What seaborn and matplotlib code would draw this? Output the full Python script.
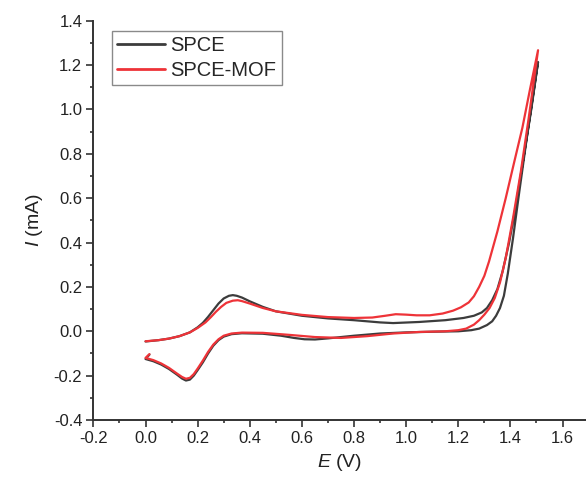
import numpy as np
import pandas as pd
import matplotlib
matplotlib.use("Agg")
import matplotlib.pyplot as plt
import seaborn as sns
from matplotlib.ticker import MultipleLocator, FormatStrFormatter

# ---- data ----
spce_E = [0.015, 0.0, 0.03, 0.06, 0.09, 0.12, 0.14, 0.155, 0.17, 0.185, 0.2, 0.22, 0.24, 0.26, 0.28, 0.3,
          0.33, 0.37, 0.45, 0.52, 0.57, 0.61, 0.65, 0.7, 0.8, 0.9, 1.0, 1.1, 1.2, 1.25, 1.28, 1.31, 1.33,
          1.345, 1.36, 1.375, 1.39, 1.41, 1.433, 1.465, 1.506,
          1.48, 1.45, 1.42, 1.395, 1.37, 1.35, 1.33, 1.31, 1.29, 1.26, 1.22, 1.15, 1.05, 0.95, 0.9, 0.8,
          0.7, 0.6, 0.5, 0.45, 0.4, 0.37, 0.35, 0.335, 0.32, 0.3, 0.28, 0.26, 0.24, 0.22, 0.2, 0.17,
          0.13, 0.09, 0.05, 0.0]
spce_I = [-0.105, -0.125, -0.135, -0.15, -0.17, -0.195, -0.213, -0.222, -0.218, -0.2, -0.175, -0.14, -0.1,
          -0.065, -0.04, -0.024, -0.013, -0.009, -0.011, -0.02, -0.03, -0.036, -0.037, -0.032, -0.02,
          -0.01, -0.005, -0.002, 0.0, 0.005, 0.012, 0.028, 0.045, 0.07, 0.105, 0.16, 0.26, 0.42, 0.62,
          0.89, 1.214,
          1.0, 0.78, 0.56, 0.40, 0.27, 0.19, 0.14, 0.105, 0.085, 0.07, 0.06, 0.05, 0.042, 0.037, 0.04,
          0.05, 0.058, 0.07, 0.09, 0.11, 0.135, 0.152, 0.16, 0.163, 0.16, 0.148, 0.125, 0.095, 0.065,
          0.038, 0.018, -0.005, -0.022, -0.033, -0.04, -0.046]

mof_E = [0.015, 0.0, 0.03, 0.06, 0.09, 0.12, 0.14, 0.155, 0.17, 0.185, 0.2, 0.22, 0.24, 0.26, 0.28, 0.3,
         0.33, 0.37, 0.45, 0.55, 0.65, 0.75, 0.85, 0.95, 1.05, 1.15, 1.2, 1.23, 1.26, 1.28, 1.3, 1.32,
         1.34, 1.36, 1.382, 1.41, 1.44, 1.47, 1.506,
         1.475, 1.446, 1.414, 1.382, 1.35, 1.318, 1.3, 1.28, 1.26, 1.24, 1.21, 1.18, 1.14, 1.09, 1.04,
         1.0, 0.96, 0.92, 0.87, 0.8, 0.7, 0.6, 0.5, 0.45, 0.4, 0.37, 0.354, 0.335, 0.31, 0.29, 0.27,
         0.25, 0.23, 0.2, 0.17, 0.13, 0.09, 0.05, 0.0]
mof_I = [-0.103, -0.12, -0.13, -0.145, -0.165, -0.19, -0.206, -0.214, -0.21, -0.193, -0.168, -0.132,
         -0.093, -0.06, -0.036, -0.02, -0.01, -0.006, -0.007, -0.016, -0.026, -0.03, -0.022, -0.01,
         -0.003, 0.0, 0.005, 0.012, 0.03, 0.05, 0.075, 0.105, 0.15, 0.22, 0.33, 0.51, 0.72, 0.96, 1.267,
         1.09, 0.918, 0.76, 0.6, 0.45, 0.315, 0.25, 0.2, 0.158, 0.13, 0.108, 0.093, 0.08, 0.072, 0.072,
         0.075, 0.077, 0.07, 0.062, 0.06, 0.064, 0.074, 0.09, 0.105, 0.125, 0.136, 0.14, 0.138, 0.128,
         0.11, 0.088, 0.063, 0.04, 0.015, -0.005, -0.022, -0.033, -0.04, -0.045]

labels = ["SPCE", "SPCE-MOF"]
colors = ["#3c3c3c", "#ee3338"]

df = pd.concat([
    pd.DataFrame({"E": spce_E, "I": spce_I, "electrode": labels[0]}),
    pd.DataFrame({"E": mof_E, "I": mof_I, "electrode": labels[1]}),
], ignore_index=True)

sns.set_theme(style="ticks")
plt.rcParams["font.family"] = ["Liberation Sans", "DejaVu Sans"]
plt.rcParams["mathtext.fontset"] = "custom"
plt.rcParams["mathtext.it"] = "Liberation Sans:italic"
plt.rcParams["mathtext.rm"] = "Liberation Sans"

fig = plt.figure(figsize=(5.86, 4.82), dpi=100)
ax = fig.add_axes([0.1594, 0.1286, 0.8406, 0.8284])

sns.lineplot(data=df, x="E", y="I", hue="electrode", palette=dict(zip(labels, colors)),
             sort=False, estimator=None, units="electrode", lw=1.6, ax=ax)
for ln in ax.get_lines():
    ln.set_solid_joinstyle("round")

ax.set_xlim(-0.2, 1.69)
ax.set_ylim(-0.4, 1.4)
ax.xaxis.set_major_locator(MultipleLocator(0.2))
ax.xaxis.set_minor_locator(MultipleLocator(0.1))
ax.yaxis.set_major_locator(MultipleLocator(0.2))
ax.yaxis.set_minor_locator(MultipleLocator(0.1))
ax.xaxis.set_major_formatter(FormatStrFormatter("%.1f"))
ax.yaxis.set_major_formatter(FormatStrFormatter("%.1f"))

for s in ["top", "right"]:
    ax.spines[s].set_visible(False)
for s in ["left", "bottom"]:
    ax.spines[s].set_linewidth(1.4)
    ax.spines[s].set_color("#333333")
ax.tick_params(which="major", direction="out", length=5, width=1.2, color="#333333",
               labelsize=12, labelcolor="#222222", pad=3)
ax.tick_params(which="minor", direction="out", length=2.5, width=1.2, color="#333333")

ax.set_xlabel(r"$\mathit{E}$ (V)", fontsize=14, color="#222222", labelpad=4)
ax.set_ylabel(r"$\mathit{I}$ (mA)", fontsize=14, color="#222222", labelpad=6)

leg = ax.legend(loc="upper left", bbox_to_anchor=(0.038, 0.975), borderaxespad=0,
                fontsize=14.5, frameon=True, fancybox=False, framealpha=1,
                handlelength=2.4, handletextpad=0.25, labelspacing=0.3, borderpad=0.25)
leg.get_frame().set_edgecolor("#8a8a8a")
leg.get_frame().set_linewidth(1.0)
for line in leg.get_lines():
    line.set_linewidth(2.0)

fig.savefig("out.png", dpi=100)
